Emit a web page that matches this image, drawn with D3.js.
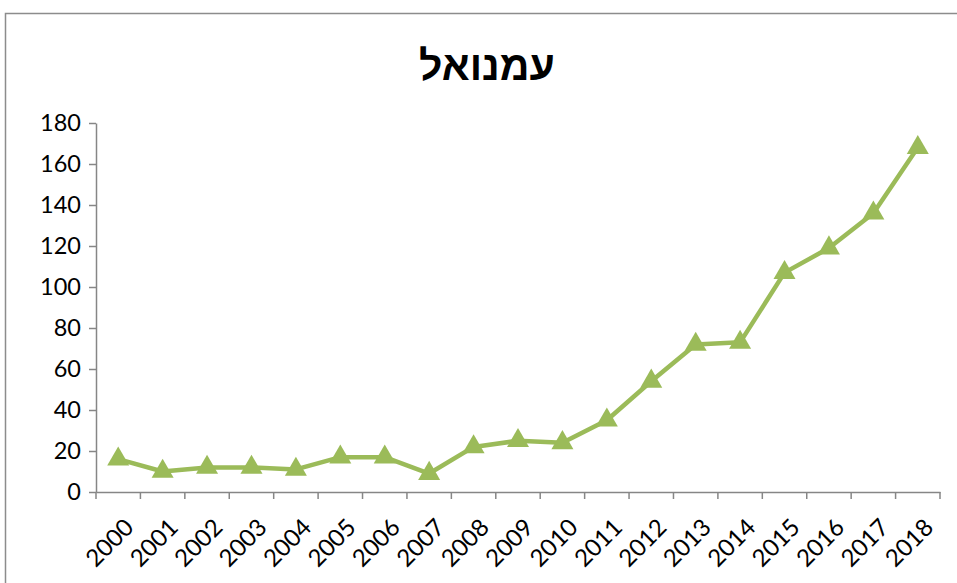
<!DOCTYPE html>
<html><head><meta charset="utf-8">
<script src="https://cdn.jsdelivr.net/npm/d3@7"></script>
<style>body{margin:0;background:#fff}svg{display:block}</style>
</head><body>
<svg id="c" width="957" height="583"></svg>
<script>
const years = ["2000","2001","2002","2003","2004","2005","2006","2007","2008","2009","2010","2011","2012","2013","2014","2015","2016","2017","2018"];
const values = [16,10,12,12,11,17,17,9,22,25,24,35,54,72,73,107,119,136,168];
const yTicks = [0,20,40,60,80,100,120,140,160,180];
const title = "עמנואל";

const svg = d3.select("#c");
svg.append("rect").attr("x",5.5).attr("y",13.5).attr("width",1000).attr("height",700)
  .attr("fill","#fff").attr("stroke","#8c8c8c").attr("stroke-width",1.5);

const m = {l:96, r:940, t:123, b:492};
const x = d3.scaleBand().domain(years).range([m.l, m.r]);
const y = d3.scaleLinear().domain([0,180]).range([m.b, m.t]);

svg.append("text").attr("x",487).attr("y",80).attr("text-anchor","middle")
  .attr("font-family","Liberation Sans, Arial, sans-serif").attr("font-weight","bold")
  .attr("font-size",41).attr("fill","#000").text(title);

const yAxis = svg.append("g").attr("transform",`translate(${m.l},0)`)
  .call(d3.axisLeft(y).tickValues(yTicks).tickSize(7).tickSizeOuter(0).tickPadding(8));
const xAxis = svg.append("g").attr("transform",`translate(0,${m.b})`)
  .call(d3.axisBottom(x).tickSize(0).tickFormat(""));
[yAxis,xAxis].forEach(g=>{
  g.selectAll("path.domain").attr("stroke","#868686").attr("stroke-width",1.5);
  g.selectAll("line").attr("stroke","#868686").attr("stroke-width",1.5);
});
yAxis.selectAll("text").attr("font-family","Lato, Open Sans, sans-serif").attr("font-size",23.5).attr("fill","#000");

// x tick marks at band boundaries
const bounds = years.map(d=>x(d)).concat([m.r]);
svg.append("g").selectAll("line").data(bounds).join("line")
  .attr("x1",d=>d).attr("x2",d=>d).attr("y1",m.b).attr("y2",m.b+7)
  .attr("stroke","#868686").attr("stroke-width",1.5);

// x labels rotated
svg.append("g").selectAll("text").data(years).join("text")
  .attr("transform",d=>`translate(${x(d)+x.bandwidth()/2+11},${m.b+31}) rotate(-45)`)
  .attr("text-anchor","end").attr("dy","0.35em")
  .attr("font-family","Lato, Open Sans, sans-serif").attr("font-size",24).attr("fill","#000")
  .text(d=>d);

const cx = (d,i)=>x(years[i])+x.bandwidth()/2;
svg.append("path").datum(values)
  .attr("d",d3.line().x((d,i)=>cx(d,i)).y(d=>y(d)))
  .attr("fill","none").attr("stroke","#9BBB59").attr("stroke-width",4.5).attr("stroke-linejoin","round");

const tri = d3.symbol().type(d3.symbolTriangle).size(210);
svg.append("g").selectAll("path").data(values).join("path")
  .attr("transform",(d,i)=>`translate(${cx(d,i)},${y(d)})`)
  .attr("d",tri).attr("fill","#9BBB59");
</script>
</body></html>
